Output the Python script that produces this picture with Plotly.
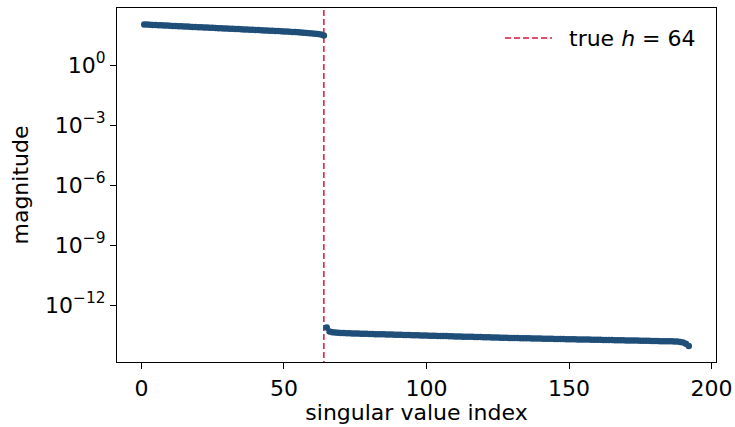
import plotly.graph_objects as go

# ---- data ----
head_index = list(range(1, 65))
head_values = [
    107, 105, 103, 101, 99.5, 97.7, 96.2, 94.6, 93.1, 91.6,
    90.2, 88.7, 87.3, 85.9, 84.5, 83.2, 81.8, 80.5, 79.3, 78.0,
    76.7, 75.5, 74.3, 73.1, 71.9, 70.8, 69.7, 68.5, 67.5, 66.4,
    65.3, 64.3, 63.2, 62.2, 61.2, 60.3, 59.3, 58.3, 57.4, 56.5,
    55.6, 54.7, 53.8, 53.0, 52.1, 51.3, 50.5, 49.5, 48.6, 47.8,
    46.9, 46.0, 45.1, 44.2, 43.3, 42.3, 41.3, 40.3, 39.2, 38.0,
    36.7, 35.3, 33.5, 29.5,
]
tail_index = list(range(65, 193))
tail_values = [
    7.4e-14, 4.7e-14, 4.4e-14, 4.2e-14, 4.07e-14,
    3.98e-14, 3.93e-14, 3.89e-14, 3.85e-14, 3.81e-14, 3.77e-14, 3.73e-14, 3.69e-14, 3.66e-14, 3.62e-14,
    3.55e-14, 3.52e-14, 3.49e-14, 3.46e-14, 3.43e-14, 3.40e-14, 3.37e-14, 3.34e-14, 3.31e-14, 3.27e-14,
    3.24e-14, 3.21e-14, 3.18e-14, 3.15e-14, 3.13e-14, 3.10e-14, 3.07e-14, 3.05e-14, 3.02e-14, 2.98e-14,
    2.95e-14, 2.93e-14, 2.90e-14, 2.88e-14, 2.85e-14, 2.83e-14, 2.80e-14, 2.78e-14, 2.75e-14, 2.72e-14,
    2.69e-14, 2.67e-14, 2.64e-14, 2.62e-14, 2.60e-14, 2.57e-14, 2.55e-14, 2.53e-14, 2.51e-14, 2.48e-14,
    2.45e-14, 2.43e-14, 2.41e-14, 2.39e-14, 2.37e-14, 2.35e-14, 2.33e-14, 2.31e-14, 2.29e-14, 2.26e-14,
    2.24e-14, 2.22e-14, 2.21e-14, 2.19e-14, 2.18e-14, 2.16e-14, 2.15e-14, 2.13e-14, 2.12e-14, 2.10e-14,
    2.09e-14, 2.07e-14, 2.06e-14, 2.04e-14, 2.03e-14, 2.02e-14, 2.00e-14, 1.99e-14, 1.97e-14, 1.96e-14,
    1.95e-14, 1.93e-14, 1.92e-14, 1.91e-14, 1.90e-14, 1.88e-14, 1.87e-14, 1.86e-14, 1.85e-14, 1.83e-14,
    1.82e-14, 1.81e-14, 1.80e-14, 1.79e-14, 1.77e-14, 1.76e-14, 1.75e-14, 1.74e-14, 1.73e-14, 1.71e-14,
    1.70e-14, 1.69e-14, 1.68e-14, 1.67e-14, 1.66e-14, 1.65e-14, 1.64e-14, 1.62e-14, 1.61e-14, 1.60e-14,
    1.58e-14, 1.57e-14, 1.56e-14, 1.55e-14, 1.54e-14, 1.53e-14, 1.52e-14, 1.51e-14, 1.48e-14, 1.41e-14,
    1.32e-14, 1.15e-14, 0.89e-14,
]
true_h = 64
x_ticks = [0, 50, 100, 150, 200]
y_ticks = [1, 1e-3, 1e-6, 1e-9, 1e-12]
y_tick_text = ["10<sup>0</sup>", "10<sup>−3</sup>", "10<sup>−6</sup>", "10<sup>−9</sup>", "10<sup>−12</sup>"]

indices = head_index + tail_index
values = head_values + tail_values

FONT = "DejaVu Sans"
BLUE = "#1f4e79"
RED = "#dc143c"
FS = 22

W, H = 735, 427
L, R, T, B = 117, 19, 8, 65
PW, PH = W - L - R, H - T - B


def px_x(p):
    return (p - L) / PW


def px_y(p):
    return (H - B - p) / PH


fig = go.Figure()
fig.add_trace(go.Scatter(
    x=[true_h, true_h], y=[10 ** -16, 10 ** 4], mode="lines",
    line=dict(color=RED, width=1.5, dash="6px,3px"),
    showlegend=False,
))
fig.add_trace(go.Scatter(
    x=indices, y=values, mode="markers",
    marker=dict(color=BLUE, size=6.5, line=dict(width=0)),
    showlegend=False,
))

# legend (matplotlib-like, no frame)
fig.add_shape(type="line", xref="paper", yref="paper",
              x0=px_x(505), x1=px_x(552), y0=px_y(38), y1=px_y(38),
              line=dict(color=RED, width=1.5, dash="6px,3px"))
fig.add_annotation(xref="paper", yref="paper", x=px_x(567), y=px_y(38),
                   xanchor="left", yanchor="middle", showarrow=False,
                   text="true <i>h</i> = %d" % true_h,
                   font=dict(family=FONT, size=FS, color="black"))

fig.update_layout(
    width=W, height=H,
    margin=dict(l=L, r=R, t=T, b=B, autoexpand=False),
    paper_bgcolor="white", plot_bgcolor="white",
    font=dict(family=FONT, size=FS, color="black"),
    showlegend=False,
)
fig.update_xaxes(
    range=[-8.55, 201.55], tickvals=x_ticks, automargin=False,
    showline=True, linecolor="black", linewidth=1.2, mirror=True,
    ticks="outside", ticklen=6, tickwidth=1.2, tickcolor="black",
    showgrid=False, zeroline=False,
    tickfont=dict(size=FS),
    title=dict(text="singular value index", standoff=5, font=dict(size=FS)),
)
fig.update_yaxes(
    type="log", range=[-14.85, 2.85], automargin=False,
    tickvals=y_ticks, ticktext=y_tick_text,
    showline=True, linecolor="black", linewidth=1.2, mirror=True,
    ticks="outside", ticklen=6, tickwidth=1.2, tickcolor="black",
    showgrid=False, zeroline=False,
    tickfont=dict(size=FS),
    title=dict(text="magnitude", standoff=10, font=dict(size=FS)),
)

# remove the browser's default 8px body margin so the figure fills the window
fig.write_html(
    "out.html",
    config={"displayModeBar": False},
    post_script="document.body.style.margin='0px';document.body.style.overflow='hidden';",
)
